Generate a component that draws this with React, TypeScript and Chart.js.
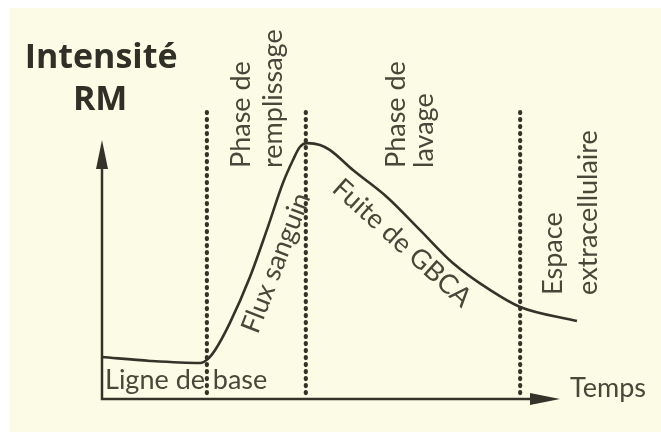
import React, { useEffect, useRef } from "react";
import { Chart, registerables } from "chart.js";

Chart.register(...registerables);

// ---- Data (time units / signal intensity units) ----
const timePoints = [0, 10.5, 21.4, 23.1, 24.7, 27.9, 32.3, 36.0, 39.5, 41.7, 43.2, 44.8, 47.6, 49.8, 54.8, 62.2, 69.4, 76.6, 84.7, 91.3, 103.7];
const intensity = [16.2, 14.7, 13.9, 15.4, 18.9, 29.3, 47.1, 65.3, 83.4, 92.3, 97.3, 98.8, 98.1, 96.1, 88.4, 78.0, 65.3, 52.5, 42.1, 35.5, 30.1];

// phase boundaries (dotted verticals)
const phaseBoundaries = [22.9, 44.5, 91.3];
const boundaryBottom = 2.3;
const boundaryTop = 112.5;

// axis extents
const xAxisMax = 100;
const yAxisMax = 100;

// text labels
const titleLines = ["Intensité", "RM"];
const phaseLabels = [
  ["Phase de", "remplissage"],
  ["Phase de", "lavage"],
  ["Espace", "extracellulaire"],
];
const curveLabels = ["Flux sanguin", "Fuite de GBCA"];
const baselineLabel = ["Ligne de", "base"];
const xAxisLabel = "Temps";

// ---- styling ----
const INK = "#33332a";
const LABEL_INK = "#47473a";
const CREAM = "#FCFCE6";
const FONT = "Lato, 'Open Sans', sans-serif";

const overlayPlugin = {
  id: "overlay",
  afterDatasetsDraw(chart: any) {
    const { ctx } = chart;
    const xs = chart.scales.x;
    const ys = chart.scales.y;
    const X = (v: number) => xs.getPixelForValue(v);
    const Y = (v: number) => ys.getPixelForValue(v);
    ctx.save();

    // axes with arrowheads
    const ox = X(0), oy = Y(0);
    const tx = X(xAxisMax), ty = Y(yAxisMax);
    ctx.strokeStyle = INK;
    ctx.fillStyle = INK;
    ctx.lineWidth = 2.5;
    ctx.lineCap = "butt";
    ctx.beginPath();
    ctx.moveTo(ox, ty + 20);
    ctx.lineTo(ox, oy);
    ctx.lineTo(tx - 20, oy);
    ctx.stroke();
    // y arrow
    ctx.beginPath();
    ctx.moveTo(ox, ty);
    ctx.lineTo(ox - 6, ty + 29);
    ctx.lineTo(ox + 6, ty + 29);
    ctx.closePath();
    ctx.fill();
    // x arrow
    ctx.beginPath();
    ctx.moveTo(tx, oy);
    ctx.lineTo(tx - 30, oy - 6);
    ctx.lineTo(tx - 30, oy + 6);
    ctx.closePath();
    ctx.fill();

    // title
    ctx.fillStyle = "#303027";
    ctx.font = "bold 34px 'Open Sans', sans-serif";
    ctx.textAlign = "center";
    ctx.textBaseline = "alphabetic";
    ctx.fillText(titleLines[0], X(-0.2), Y(127.8));
    ctx.fillText(titleLines[1], X(-0.4), Y(111.6));

    // phase labels (rotated)
    ctx.fillStyle = LABEL_INK;
    ctx.font = `27px ${FONT}`;
    ctx.textAlign = "left";
    const phaseAnchors = [
      { y: 89.2, b: [32.3, 39.3] },
      { y: 89.2, b: [66.2, 72.3] },
      { y: 40.2, b: [100.4, 108.1] },
    ];
    phaseLabels.forEach((lines, i) => {
      const a = phaseAnchors[i];
      lines.forEach((t, j) => {
        ctx.save();
        ctx.translate(X(a.b[j]), Y(a.y));
        ctx.rotate(-Math.PI / 2);
        ctx.fillText(t, 0, 0);
        ctx.restore();
      });
    });

    // curve labels
    ctx.textAlign = "center";
    ctx.textBaseline = "middle";
    const curveAnchors = [
      { x: 38.0, y: 52.5, a: -69 },
      { x: 65.5, y: 60.2, a: 42 },
    ];
    curveLabels.forEach((t, i) => {
      const a = curveAnchors[i];
      ctx.save();
      ctx.translate(X(a.x), Y(a.y));
      ctx.rotate((a.a * Math.PI) / 180);
      ctx.fillText(t, 0, 0);
      ctx.restore();
    });

    // baseline + axis label
    ctx.textAlign = "left";
    ctx.textBaseline = "alphabetic";
    ctx.fillText(baselineLabel[0], X(0.66), Y(3.9));
    ctx.fillText(baselineLabel[1], X(24.2), Y(3.9));
    ctx.fillText(xAxisLabel, X(102.2), Y(0.8));

    ctx.restore();
  },
};

export default function App() {
  const ref = useRef<HTMLCanvasElement | null>(null);
  useEffect(() => {
    if (!ref.current) return;
    const curve = timePoints.map((t, i) => ({ x: t, y: intensity[i] }));
    const boundarySets = phaseBoundaries.map((b) => ({
      data: [
        { x: b, y: boundaryBottom },
        { x: b, y: boundaryTop },
      ],
      borderColor: INK,
      borderWidth: 4.2,
      borderDash: [1, 6],
      borderCapStyle: "round" as const,
      pointRadius: 0,
      tension: 0,
      clip: false as any,
    }));
    const chart = new Chart(ref.current, {
      type: "line",
      data: {
        datasets: [
          {
            data: curve,
            borderColor: INK,
            borderWidth: 2.6,
            pointRadius: 0,
            cubicInterpolationMode: "monotone",
            clip: false as any,
          },
          ...boundarySets,
        ],
      },
      options: {
        animation: false,
        responsive: false,
        devicePixelRatio: 1,
        layout: { padding: { left: 92, right: 101, top: 132, bottom: 33 } },
        plugins: { legend: { display: false }, tooltip: { enabled: false } },
        events: [],
        scales: {
          x: { type: "linear", min: 0, max: xAxisMax, display: false },
          y: { type: "linear", min: 0, max: yAxisMax, display: false },
        },
      },
      plugins: [overlayPlugin],
    });
    return () => chart.destroy();
  }, []);

  return (
    <div style={{ position: "absolute", left: 0, top: 0, width: 661, height: 432, background: "#fff", overflow: "hidden" }}>
      <div style={{ position: "absolute", left: 10, top: 8, width: 651, height: 424, background: CREAM }}>
        <canvas ref={ref} width={651} height={424} style={{ display: "block", width: 651, height: 424 }} />
      </div>
    </div>
  );
}
